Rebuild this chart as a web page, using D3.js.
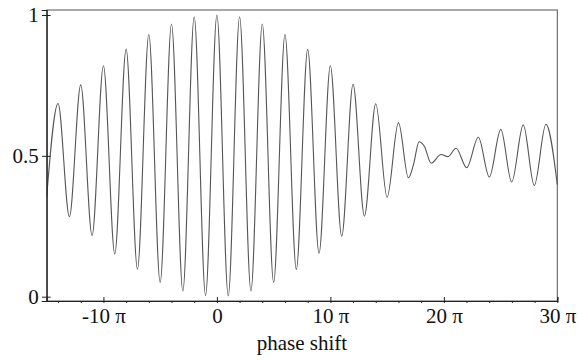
<!DOCTYPE html>
<html>
<head>
<meta charset="utf-8">
<script src="https://cdn.jsdelivr.net/npm/d3@7"></script>
<style>
  body { margin: 0; background: #fff; }
  svg text { font-family: "Liberation Serif", "Times New Roman", serif; font-size: 21px; fill: #111; }
</style>
</head>
<body>
<svg id="chart" width="578" height="360"></svg>
<script>
// extrema of the curve, x in units of pi
var phase = [-15, -14, -13, -12, -11, -10, -9, -8, -7, -6, -5, -4, -3, -2, -1, 0,
             1, 2, 3, 4, 5, 6, 7, 8, 9, 10, 11, 12, 13, 14, 15, 16,
             16.88, 17.32, 17.82, 18.29, 18.88, 19.76, 20.35, 21.08, 22.02,
             23.04, 24.01, 25.02, 25.98, 27.0, 27.97, 29.0, 30];
var intensity = [0.355, 0.686, 0.284, 0.752, 0.217, 0.820, 0.152, 0.879, 0.098, 0.931, 0.051, 0.968, 0.020, 0.994, 0.004, 1.0,
                 0.003, 0.994, 0.020, 0.968, 0.051, 0.931, 0.097, 0.878, 0.154, 0.820, 0.215, 0.754, 0.286, 0.685, 0.353, 0.618,
                 0.422, 0.468, 0.550, 0.533, 0.474, 0.505, 0.497, 0.527, 0.458,
                 0.566, 0.425, 0.594, 0.407, 0.610, 0.395, 0.612, 0.398];
var xMajor = [-10, 0, 10, 20, 30];
var xMinor = [-14, -12, -8, -6, -4, -2, 2, 4, 6, 8, 12, 14, 16, 18, 22, 24, 26, 28];
var yTicks = [0, 0.5, 1];
var yLabels = ["0", "0.5", "1"];

var svg = d3.select("#chart"),
    plotLeft = 46.7, plotRight = 557.3, plotTop = 10, plotBottom = 301;

var x = d3.scaleLinear().domain([-15, 30]).range([plotLeft, plotRight]);
var y = d3.scaleLinear().domain([-0.0153, 1.0178]).range([plotBottom, plotTop]);

// frame
svg.append("rect")
  .attr("x", plotLeft).attr("y", plotTop)
  .attr("width", plotRight - plotLeft).attr("height", plotBottom - plotTop)
  .attr("fill", "none").attr("stroke", "#555").attr("stroke-width", 1);

// curve
var line = d3.line()
  .x(function(d, i) { return x(phase[i]); })
  .y(function(d) { return y(d); })
  .curve(d3.curveMonotoneX);

svg.append("path")
  .datum(intensity)
  .attr("d", line)
  .attr("fill", "none")
  .attr("stroke", "#555")
  .attr("stroke-width", 1.1);

// x axis, major ticks
var gx = svg.append("g")
  .attr("transform", "translate(0," + plotBottom + ")")
  .call(d3.axisBottom(x).tickValues(xMajor).tickSize(-4).tickFormat(function(d) {
    return d === 0 ? "0" : (d < 0 ? "-" : "") + Math.abs(d) + " \u03c0";
  }));
gx.select(".domain").attr("stroke", "#222");
gx.selectAll(".tick line").attr("y2", -4).attr("y1", 2).attr("stroke", "#222");
gx.selectAll(".tick text").attr("y", 22).attr("dy", 0).attr("font-size", null).attr("font-family", null);

// x axis, minor ticks
var gm = svg.append("g")
  .attr("transform", "translate(0," + plotBottom + ")")
  .call(d3.axisBottom(x).tickValues(xMinor).tickSize(2).tickFormat(""));
gm.select(".domain").remove();
gm.selectAll(".tick line").attr("stroke", "#222");

// y axis
var gy = svg.append("g")
  .attr("transform", "translate(" + plotLeft + ",0)")
  .call(d3.axisLeft(y).tickValues(yTicks).tickSize(5).tickPadding(3)
    .tickFormat(function(d, i) { return yLabels[i]; }));
gy.select(".domain").attr("stroke", "#222");
gy.selectAll(".tick line").attr("x2", -4.7).attr("x1", 4).attr("stroke", "#222");
gy.selectAll(".tick text").attr("font-size", null).attr("font-family", null);

svg.selectAll(".domain").attr("stroke-width", 1.2);

// axis title
svg.append("text")
  .attr("x", (plotLeft + plotRight) / 2)
  .attr("y", 350)
  .attr("text-anchor", "middle")
  .text("phase shift");
</script>
</body>
</html>
